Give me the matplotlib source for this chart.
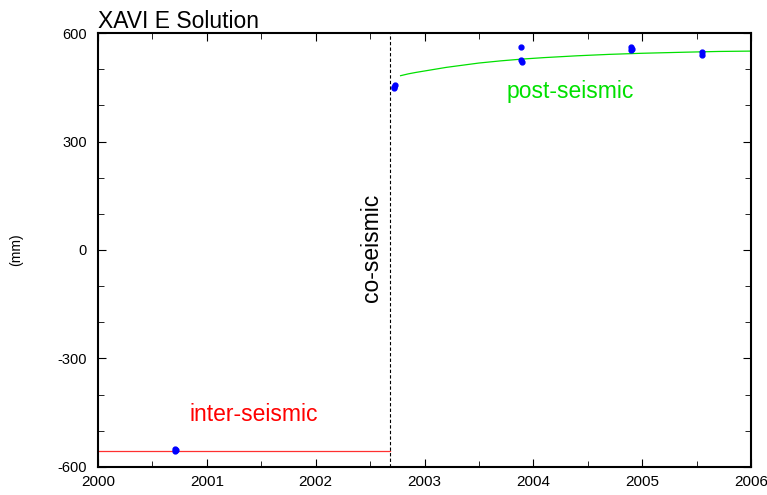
import matplotlib
matplotlib.use("Agg")
import matplotlib.pyplot as plt
from matplotlib.ticker import MultipleLocator

# observed positions (decimal year, mm)
obs_t = [2000.71, 2000.71, 2000.72, 2002.72, 2002.73, 2002.72,
         2003.89, 2003.89, 2003.90, 2004.90, 2004.91, 2004.90,
         2005.55, 2005.55]
obs_y = [-551, -557, -554, 447, 455, 451,
         560, 526, 519, 560, 555, 552,
         548, 539]
obs_err = [6, 6, 6, 6, 6, 6, 4, 6, 6, 5, 5, 5, 4, 4]

# inter-seismic model
inter_t = [2000.0, 2002.68]
inter_y = [-556, -556]

# co-seismic epoch
quake_t = 2002.68

# post-seismic model
post_t = [2002.78, 2002.85, 2002.92, 2003.0, 2003.1, 2003.2, 2003.35, 2003.5,
          2003.7, 2003.9, 2004.1, 2004.4, 2004.7, 2005.0, 2005.4, 2005.7, 2006.0]
post_y = [482, 487, 491, 495, 500, 505, 511, 517,
          523, 528, 532, 537, 541, 544, 547, 549, 550]

plt.rcParams["font.family"] = ["Liberation Sans", "DejaVu Sans"]
plt.rcParams["axes.unicode_minus"] = False

fig = plt.figure(figsize=(7.67, 4.95), dpi=100)
ax = fig.add_axes([0.1278, 0.0566, 0.8514, 0.8767])

ax.plot(inter_t, inter_y, color="#ff3030", lw=0.9)
ax.plot(post_t, post_y, color="#00e000", lw=0.9)
ax.axvline(quake_t, color="black", lw=0.8, ls=(0, (3, 2)))
ax.errorbar(obs_t, obs_y, yerr=obs_err, fmt="o", color="#0000ff",
            ms=3.5, elinewidth=1.2, capsize=0)

ax.text(2001.43, -456, "inter-seismic", color="#ff0000", fontsize=16.5,
        ha="center", va="center")
ax.text(2004.34, 437, "post-seismic", color="#00e000", fontsize=16.5,
        ha="center", va="center")
ax.text(2002.51, 6, "co-seismic", color="black", fontsize=16.5,
        rotation=90, ha="center", va="center")

ax.set_xlim(2000, 2006)
ax.set_ylim(-600, 600)
ax.xaxis.set_major_locator(MultipleLocator(1))
ax.xaxis.set_minor_locator(MultipleLocator(0.5))
ax.yaxis.set_major_locator(MultipleLocator(300))
ax.yaxis.set_minor_locator(MultipleLocator(100))
ax.tick_params(which="both", direction="in", top=True, right=True)
ax.tick_params(axis="x", labelsize=11, pad=6)
ax.tick_params(axis="y", labelsize=10.5, pad=8)
ax.tick_params(which="major", length=6)
ax.tick_params(which="minor", length=4)
for s in ax.spines.values():
    s.set_linewidth(1.5)

fig.text(16 / 767, 0.495, "(mm)", rotation=90, fontsize=10,
         ha="center", va="center")
ax.set_title("XAVI E Solution", loc="left", fontsize=16.5, pad=2)

fig.savefig("out.png", dpi=100)
